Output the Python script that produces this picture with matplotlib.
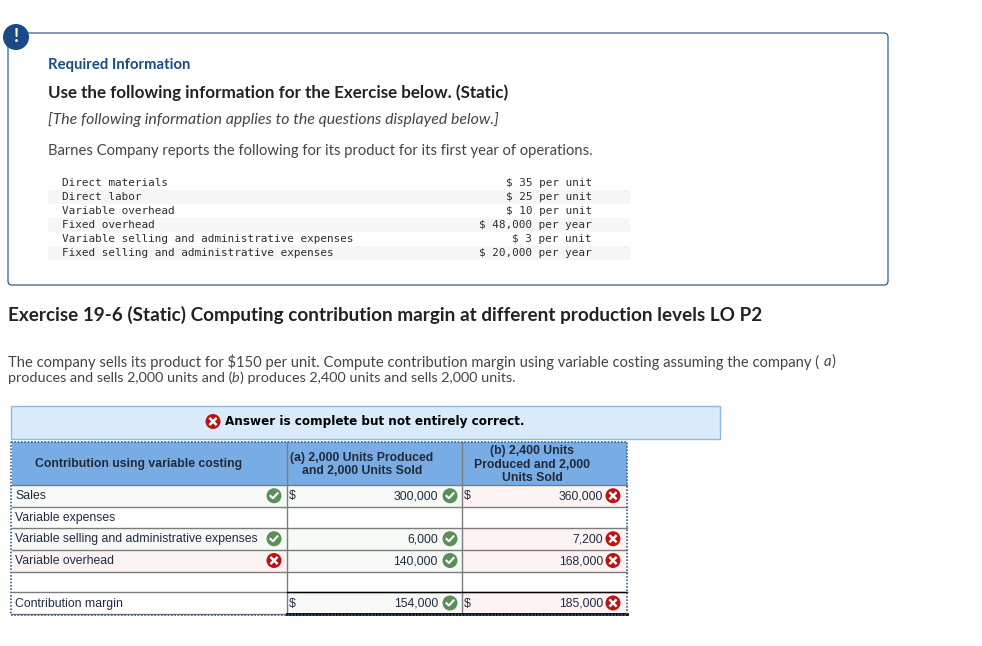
import matplotlib
matplotlib.use("Agg")
import matplotlib.pyplot as plt
from matplotlib.patches import Rectangle, Circle, FancyBboxPatch

NAVY = "#1a4a85"
TEXT = "#2d2d2d"
UI = "Lato"
TABLE = "Liberation Sans"
MONO = "DejaVu Sans Mono"

cost_labels = ["Direct materials", "Direct labor", "Variable overhead", "Fixed overhead",
               "Variable selling and administrative expenses",
               "Fixed selling and administrative expenses"]
cost_amounts = ["$ 35", "$ 25", "$ 10", "$ 48,000", "$ 3", "$ 20,000"]
cost_units = ["per unit", "per unit", "per unit", "per year", "per unit", "per year"]

header_labels = ["Contribution using variable costing",
                 "(a) 2,000 Units Produced\nand 2,000 Units Sold",
                 "(b) 2,400 Units\nProduced and 2,000\nUnits Sold"]
row_labels = ["Sales", "Variable expenses", "Variable selling and administrative expenses",
              "Variable overhead", "", "Contribution margin"]
label_marks = [True, None, True, False, None, None]
col_a = [300000, None, 6000, 140000, None, 154000]
col_b = [360000, None, 7200, 168000, None, 185000]
mark_a = [True, None, True, True, None, True]
mark_b = [False, None, False, False, None, False]
dollar_rows = [True, False, False, False, False, True]

row_edges = [485, 506.5, 528, 549.5, 571.5, 592, 614]
col_edges = [12, 287, 462, 627]

fig = plt.figure(figsize=(9.82, 6.46), dpi=100)
ax = fig.add_axes([0, 0, 1, 1])
ax.set_xlim(0, 982)
ax.set_ylim(646, 0)
ax.axis("off")


def put(x, y, s, size, family=UI, color=TEXT, **kw):
    kw.setdefault("va", "center")
    return ax.text(x, y, s, fontsize=size, family=family, color=color, **kw)


def status(x, y, ok):
    ax.add_patch(Circle((x, y), 7.5, fc="#5b8f5a" if ok else "#b81414", ec="none", zorder=4))
    if ok:
        ax.plot([x - 3.5, x - 1, x + 3.5], [y + 0.2, y + 2.5, y - 2.5], color="white", lw=1.5, zorder=5)
    else:
        ax.plot([x - 2.7, x + 2.7], [y - 2.7, y + 2.7], color="white", lw=1.8, zorder=5)
        ax.plot([x - 2.7, x + 2.7], [y + 2.7, y - 2.7], color="white", lw=1.8, zorder=5)


# top info box
ax.add_patch(FancyBboxPatch((8, 33), 880, 252, boxstyle="round,pad=0,rounding_size=4",
                            fc="white", ec=NAVY, lw=0.8))
ax.add_patch(Circle((16, 37), 13, fc=NAVY, ec="none", zorder=3))
put(16, 37, "!", 13, color="white", ha="center", weight="bold", zorder=4)

put(48, 64.5, "Required Information", 10.7, color=NAVY, weight="bold")
put(48, 92.5, "Use the following information for the Exercise below. (Static)", 12.25, color="#222222", weight="bold")
put(48, 119.5, "[The following information applies to the questions displayed below.]", 11.45, style="italic", color="#444444")
put(48, 151.5, "Barnes Company reports the following for its product for its first year of operations.", 10.62, color="#444444")

for i, (name, amount, unit) in enumerate(zip(cost_labels, cost_amounts, cost_units)):
    y = 183.5 + 14 * i
    if i % 2 == 1:
        ax.add_patch(Rectangle((48, y - 7.5), 582, 14, fc="#f6f6f6", ec="none"))
    put(62, y, name, 7.95, family=MONO)
    put(592, y, amount + " " + unit, 7.95, family=MONO, ha="right")

put(8, 314.5, "Exercise 19-6 (Static) Computing contribution margin at different production levels LO P2", 13.6, color="#222222", weight="bold")
put(8, 361.5, "The company sells its product for $150 per unit. Compute contribution margin using variable costing assuming the company (", 10.65, color="#444444")
put(824, 361.5, "a", 10.65, style="italic", color="#444444")
put(832, 361.5, ")", 10.65, color="#444444")
put(8, 377.5, "produces and sells 2,000 units and (", 10.4, color="#444444")
put(232, 377.5, "b", 10.4, style="italic", color="#444444")
put(240, 377.5, ") produces 2,400 units and sells 2,000 units.", 10.4, color="#444444")

# answer banner
ax.add_patch(Rectangle((11.5, 405.5), 709, 33, fc="#d9ebfa", ec="#8fb8e0", lw=1))
status(213, 421.5, False)
put(225, 421.5, "Answer is complete but not entirely correct.", 8.65, family="DejaVu Sans", color="black", weight="bold")

# table body
left, mid_a, mid_b, right = col_edges
ax.add_patch(Rectangle((left, 442), right - left, row_edges[0] - 442, fc="#78ace5", ec="none"))
for i in range(len(row_labels)):
    top, bottom = row_edges[i], row_edges[i + 1]
    h = bottom - top
    if label_marks[i] is not None:
        ax.add_patch(Rectangle((left, top), mid_a - left, h, fc="#f6f9f5" if label_marks[i] else "#fdf3f2", ec="none"))
    if mark_a[i] is not None:
        ax.add_patch(Rectangle((mid_a, top), mid_b - mid_a, h, fc="#f6f9f5" if mark_a[i] else "#fdf3f2", ec="none"))
    if mark_b[i] is not None:
        ax.add_patch(Rectangle((mid_b, top), right - mid_b, h, fc="#f6f9f5" if mark_b[i] else "#fdf3f2", ec="none"))

for y in row_edges[:-1]:
    ax.plot([left, right], [y, y], color="#7c7c7c", lw=1)
ax.plot([left, mid_a], [row_edges[-1]] * 2, color="#7c7c7c", lw=1)
for x in col_edges[1:3]:
    ax.plot([x, x], [442, 614], color="#7c7c7c", lw=1)
ax.plot([mid_a, right], [592, 592], color="black", lw=1, zorder=3)
ax.plot([mid_a, right], [614, 614], color="black", lw=2, zorder=3)
ax.add_patch(Rectangle((11.5, 441.5), 616, 173.5, fc="none", ec="#3c6289", lw=1.2, ls=(0, (1, 1)), zorder=3))

# header text
header_x = [138.5, 362, 532.5]
for x, s in zip(header_x, header_labels):
    put(x, 464.5, s, 8.85, family=TABLE, color="#222a3a", ha="center", weight="bold", linespacing=1.22)

# table rows
for i, label in enumerate(row_labels):
    y = (row_edges[i] + row_edges[i + 1]) / 2 + 0.5
    put(15, y, label, 8.85, family=TABLE, color="#1f2a44")
    if label_marks[i] is not None:
        status(274, y - 0.5, label_marks[i])
    if dollar_rows[i]:
        put(289, y, "$", 8.85, family=TABLE, color="#1f2a44")
        put(464, y, "$", 8.85, family=TABLE, color="#1f2a44")
    if col_a[i] is not None:
        put(438, y, f"{col_a[i]:,}", 8.85, family=TABLE, color="#1f2a44", ha="right")
        status(450, y - 0.5, mark_a[i])
    if col_b[i] is not None:
        put(603, y, f"{col_b[i]:,}", 8.85, family=TABLE, color="#1f2a44", ha="right")
        status(613, y - 0.5, mark_b[i])

fig.savefig("out.png", dpi=100)
